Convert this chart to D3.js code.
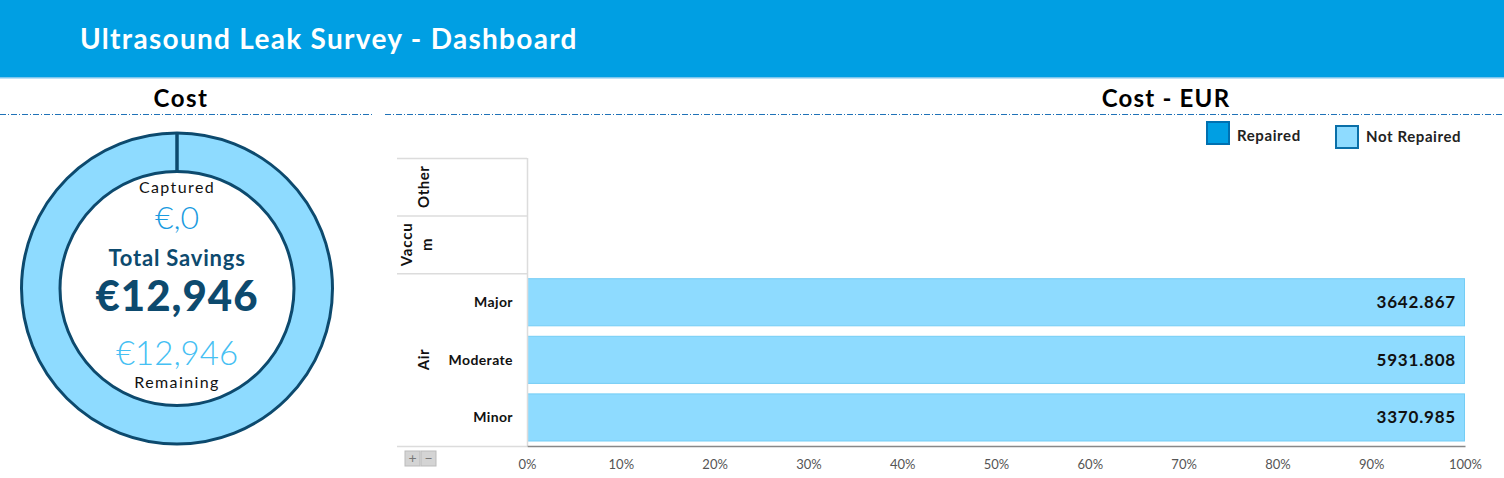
<!DOCTYPE html>
<html><head><meta charset="utf-8">
<script src="https://cdn.jsdelivr.net/npm/d3@7"></script>
<style>
html,body{margin:0;padding:0;background:#fff;}
svg{display:block;font-family:Lato,"Open Sans",sans-serif;}
</style></head>
<body><svg id="c" width="1504" height="478"></svg>
<script>
// ---- data ----
const title = "Ultrasound Leak Survey - Dashboard";
const groups = ["Other", "Vaccum", "Air"];
const categories = ["Other", "Vaccum", "Major", "Moderate", "Minor"];
const categoryGroup = ["Other", "Vaccum", "Air", "Air", "Air"];
const repaired = [null, null, 0, 0, 0];
const notRepaired = [null, null, 3642.867, 5931.808, 3370.985];
const seriesNames = ["Repaired", "Not Repaired"];
const xTicks = [0, 0.1, 0.2, 0.3, 0.4, 0.5, 0.6, 0.7, 0.8, 0.9, 1];
const donutNames = ["Captured", "Remaining"];

const capturedTotal = d3.sum(repaired);
const remainingTotal = d3.sum(notRepaired);
const donutValues = [capturedTotal, remainingTotal];
const totalSavings = capturedTotal + remainingTotal;

const svg = d3.select("#c");
const C = {header:"#009FE3", navy:"#0D4A6E", light:"#8EDBFF", lightStroke:"#74CDF5", blue:"#009FE3", dash:"#1f72b8"};

// header
svg.append("rect").attr("x",0).attr("y",0).attr("width",1504).attr("height",77).attr("fill",C.header);
svg.append("rect").attr("x",0).attr("y",77).attr("width",1504).attr("height",1.5).attr("fill","#7cc6ee");
svg.append("text").attr("x",80).attr("y",49).attr("fill","#fff").attr("font-size",28).attr("font-weight",700).attr("letter-spacing",1.3).text(title);

// section titles
svg.append("text").attr("x",181).attr("y",107).attr("text-anchor","middle").attr("font-size",24).attr("font-weight",700).attr("letter-spacing",1.5).attr("fill","#000").text("Cost");
svg.append("text").attr("x",1166).attr("y",107).attr("text-anchor","middle").attr("font-size",24).attr("font-weight",700).attr("letter-spacing",1.2).attr("fill","#000").text("Cost - EUR");
[[0,372],[385,1504]].forEach(([a,b])=>{
  svg.append("line").attr("x1",a).attr("x2",b).attr("y1",114.5).attr("y2",114.5)
    .attr("stroke",C.dash).attr("stroke-width",1).attr("stroke-dasharray","6,2,1,2");
});

// ---- donut ----
const cx=177, cy=288.5, rIn=117, rOut=155.5;
const pie = d3.pie().sort(null).value(d=>d);
const arc = d3.arc().innerRadius(rIn).outerRadius(rOut);
const gD = svg.append("g").attr("transform",`translate(${cx},${cy})`);
const slices = pie(donutValues);
gD.selectAll("path").data(slices).join("path")
  .attr("d",arc).attr("fill",(d,i)=>i===0?C.blue:C.light)
  .attr("stroke",C.navy).attr("stroke-width",3);
// slice boundaries
slices.forEach(s=>{
  const a = s.startAngle;
  gD.append("line").attr("x1",rIn*Math.sin(a)).attr("y1",-rIn*Math.cos(a))
    .attr("x2",rOut*Math.sin(a)).attr("y2",-rOut*Math.cos(a))
    .attr("stroke",C.navy).attr("stroke-width",3);
});
const fmt = v => "€" + d3.format(",.0f")(v);
gD.append("text").attr("y",-96).attr("text-anchor","middle").attr("font-size",16).attr("letter-spacing",1.4).attr("fill","#111").text(donutNames[0]);
gD.append("text").attr("y",-60).attr("text-anchor","middle").attr("font-size",32).attr("font-weight",300).attr("fill","#1a9be0").text("€," + d3.format(".0f")(capturedTotal));
gD.append("text").attr("y",-23).attr("text-anchor","middle").attr("font-size",22).attr("font-weight",700).attr("letter-spacing",0.8).attr("fill",C.navy).text("Total Savings");
gD.append("text").attr("y",22).attr("text-anchor","middle").attr("font-size",42).attr("font-weight",900).attr("letter-spacing",1).attr("fill",C.navy).text(fmt(totalSavings));
gD.append("text").attr("y",76).attr("text-anchor","middle").attr("font-size",33).attr("font-weight",300).attr("fill","#45c0f3").text(fmt(remainingTotal));
gD.append("text").attr("y",99).attr("text-anchor","middle").attr("font-size",16).attr("letter-spacing",1.4).attr("fill","#111").text(donutNames[1]);

// ---- bar chart ----
const x0=527, x1=1465, yTop=158, yBot=446;
const x = d3.scaleLinear().domain([0,1]).range([x0,x1]);
const y = d3.scaleBand().domain(categories).range([yTop,yBot]).paddingInner(0).paddingOuter(0);
const rows = categories.map((c,i)=>({cat:c, Repaired:repaired[i]||0, "Not Repaired":notRepaired[i]||0, has: notRepaired[i]!=null}));
const stack = d3.stack().keys(seriesNames).offset(d3.stackOffsetExpand);
const series = stack(rows.filter(r=>r.has));
const colors = {"Repaired":C.blue, "Not Repaired":C.light};
const strokes = {"Repaired":"#0070B0", "Not Repaired":C.lightStroke};
const bandPad = 5;
series.forEach(s=>{
  svg.append("g").selectAll("rect").data(s).join("rect")
    .attr("x",d=>x(d[0])+0.5).attr("width",d=>Math.max(0,x(d[1])-x(d[0])-1))
    .attr("y",d=>y(d.data.cat)+bandPad+0.5).attr("height",y.bandwidth()-2*bandPad-0.5)
    .attr("fill",colors[s.key]).attr("stroke",d=>x(d[1])-x(d[0])>0?strokes[s.key]:"none").attr("stroke-width",1);
});
// value labels
svg.append("g").selectAll("text").data(rows.filter(r=>r.has)).join("text")
  .attr("x",x(1)-9).attr("y",d=>y(d.cat)+y.bandwidth()/2+6).attr("text-anchor","end")
  .attr("font-size",17).attr("font-weight",700).attr("letter-spacing",0.8).attr("fill","#111")
  .text(d=>d["Not Repaired"]);

// category table
const gridC="#dcdcdc";
const tbl = svg.append("g");
tbl.append("line").attr("x1",x0+0.5).attr("x2",x0+0.5).attr("y1",yTop).attr("y2",yBot).attr("stroke",gridC).attr("stroke-width",1.5);
const groupRanges = groups.map(g=>{
  const cs = categories.filter((c,i)=>categoryGroup[i]===g);
  return {g, y0:y(cs[0]), y1:y(cs[cs.length-1])+y.bandwidth(), cs};
});
[yTop, ...groupRanges.map(r=>r.y1)].forEach((yy)=>{
  tbl.append("line").attr("x1",397).attr("x2",x0).attr("y1",yy+0.5).attr("y2",yy+0.5).attr("stroke",gridC).attr("stroke-width",1.5);
});
groupRanges.forEach(r=>{
  const mid=(r.y0+r.y1)/2;
  if (r.g==="Vaccum") {
    const t = tbl.append("text").attr("transform",`translate(418,${mid}) rotate(-90)`).attr("text-anchor","middle").attr("font-size",15).attr("font-weight",700).attr("letter-spacing",0.8).attr("fill","#111");
    t.append("tspan").attr("x",0).attr("y",-6).text("Vaccu");
    t.append("tspan").attr("x",0).attr("y",14).text("m");
  } else {
    tbl.append("text").attr("transform",`translate(429,${mid}) rotate(-90)`).attr("text-anchor","middle").attr("font-size",15).attr("font-weight",700).attr("letter-spacing",0.5).attr("fill","#111").text(r.g);
  }
});
categories.forEach((c,i)=>{
  if (categoryGroup[i]===c) return;
  tbl.append("text").attr("x",513).attr("y",y(c)+y.bandwidth()/2+5).attr("text-anchor","end").attr("font-size",14).attr("font-weight",700).attr("letter-spacing",0.4).attr("fill","#111").text(c);
});

// x axis
const ax = svg.append("g").attr("transform",`translate(0,${yBot})`)
  .call(d3.axisBottom(x).tickValues(xTicks).tickFormat(d3.format(".0%")).tickSize(0).tickPadding(14));
ax.select(".domain").attr("stroke","#888").attr("stroke-width",1.5);
ax.selectAll("text").attr("font-size",13).attr("fill","#555").attr("font-family","Lato,sans-serif");

// +/- buttons
[["+",405],["−",421]].forEach(([s,bx])=>{
  svg.append("rect").attr("x",bx).attr("y",451).attr("width",15).attr("height",15).attr("fill","#d4d4d4").attr("stroke","#bbb");
  svg.append("text").attr("x",bx+7.5).attr("y",463).attr("text-anchor","middle").attr("font-size",14).attr("fill","#777").text(s);
});

// legend
const lg = svg.append("g");
const legPos = [[1206,121,"Repaired"],[1335,125,"Not Repaired"]];
legPos.forEach(([lx,ly,name])=>{
  lg.append("rect").attr("x",lx+1).attr("y",ly+1).attr("width",22).attr("height",22)
    .attr("fill",colors[name]).attr("stroke",name==="Repaired"?"#0070B0":"#0A6FA8").attr("stroke-width",2);
  lg.append("text").attr("x",lx+31).attr("y",name==="Repaired"?141:142).attr("font-size",15).attr("font-weight",700).attr("letter-spacing",0.6).attr("fill","#222").text(name);
});
</script></body></html>
